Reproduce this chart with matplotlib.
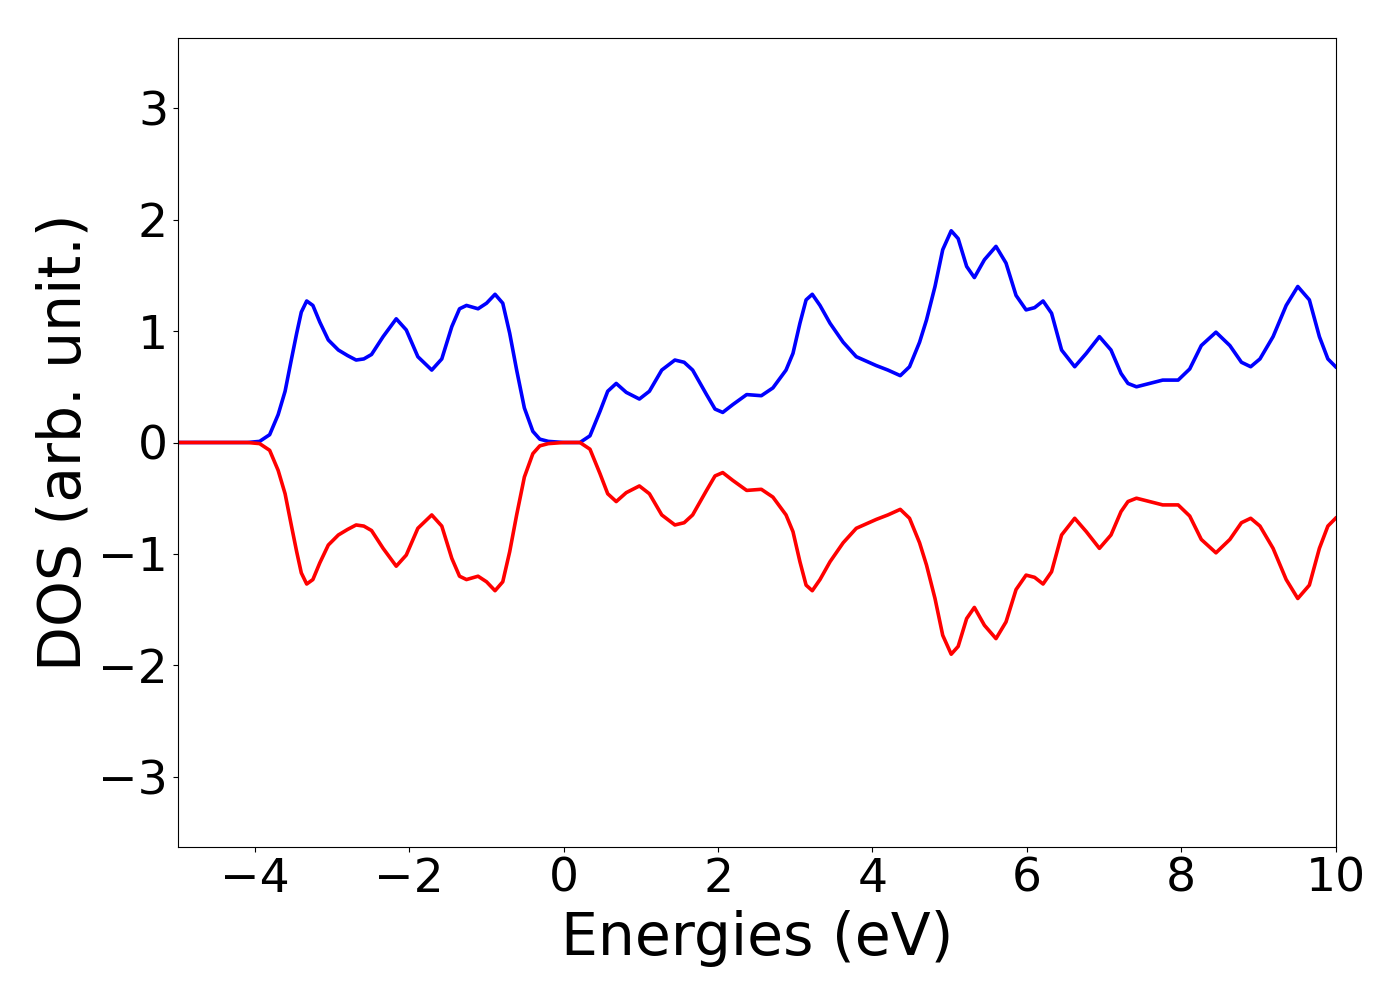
import matplotlib
matplotlib.use("Agg")
import matplotlib.pyplot as plt

# energies (eV) and spin-up DOS; spin-down is its mirror
energy = [-5.0, -4.5, -4.1, -3.94, -3.81, -3.70, -3.61, -3.53, -3.46, -3.40,
          -3.33, -3.25, -3.16, -3.05, -2.92, -2.80, -2.69, -2.59, -2.49, -2.34,
          -2.17, -2.04, -1.89, -1.71, -1.58, -1.45, -1.35, -1.26, -1.11, -1.00,
          -0.89, -0.79, -0.70, -0.61, -0.51, -0.40, -0.31, -0.20, 0.0, 0.10,
          0.21, 0.34, 0.47, 0.57, 0.68, 0.81, 0.98, 1.11, 1.27, 1.44,
          1.56, 1.67, 1.85, 1.96, 2.06, 2.19, 2.37, 2.56, 2.71, 2.88,
          2.97, 3.06, 3.14, 3.22, 3.32, 3.45, 3.62, 3.79, 4.05, 4.20,
          4.36, 4.48, 4.61, 4.70, 4.81, 4.91, 5.02, 5.11, 5.22, 5.32,
          5.45, 5.60, 5.73, 5.86, 5.99, 6.10, 6.21, 6.32, 6.45, 6.62,
          6.77, 6.94, 7.09, 7.22, 7.31, 7.42, 7.59, 7.76, 7.96, 8.11,
          8.26, 8.45, 8.63, 8.78, 8.90, 9.02, 9.19, 9.36, 9.51, 9.66,
          9.79, 9.90, 10.0]
dos_up = [0.0, 0.0, 0.0, 0.01, 0.07, 0.25, 0.46, 0.74, 0.98, 1.17,
          1.27, 1.23, 1.08, 0.92, 0.83, 0.78, 0.74, 0.75, 0.79, 0.95,
          1.11, 1.01, 0.77, 0.65, 0.75, 1.04, 1.20, 1.23, 1.20, 1.25,
          1.33, 1.25, 0.98, 0.65, 0.31, 0.10, 0.03, 0.01, 0.0, 0.0,
          0.0, 0.06, 0.28, 0.46, 0.53, 0.45, 0.39, 0.46, 0.65, 0.74,
          0.72, 0.65, 0.43, 0.30, 0.27, 0.34, 0.43, 0.42, 0.49, 0.65,
          0.80, 1.07, 1.28, 1.33, 1.23, 1.07, 0.90, 0.77, 0.69, 0.65,
          0.60, 0.68, 0.90, 1.10, 1.40, 1.73, 1.90, 1.83, 1.58, 1.48,
          1.64, 1.76, 1.61, 1.32, 1.19, 1.21, 1.27, 1.16, 0.83, 0.68,
          0.80, 0.95, 0.83, 0.62, 0.53, 0.50, 0.53, 0.56, 0.56, 0.66,
          0.87, 0.99, 0.87, 0.72, 0.68, 0.75, 0.95, 1.23, 1.40, 1.28,
          0.95, 0.75, 0.68]
dos_dn = [-v for v in dos_up]

fig = plt.figure(figsize=(14, 10), dpi=100)
ax = fig.add_axes([0.127, 0.153, 0.827, 0.809])
ax.plot(energy, dos_up, color="blue", lw=2.6)
ax.plot(energy, dos_dn, color="red", lw=2.6)

ax.set_xlim(-5, 10)
ax.set_ylim(-3.63, 3.63)
ax.set_xticks([-4, -2, 0, 2, 4, 6, 8, 10])
ax.set_yticks([-3, -2, -1, 0, 1, 2, 3])
ax.tick_params(labelsize=34)
ax.set_xlabel("Energies (eV)", fontsize=42, labelpad=6)
ax.set_ylabel("DOS (arb. unit.)", fontsize=42)

fig.savefig("out.png", dpi=100)
